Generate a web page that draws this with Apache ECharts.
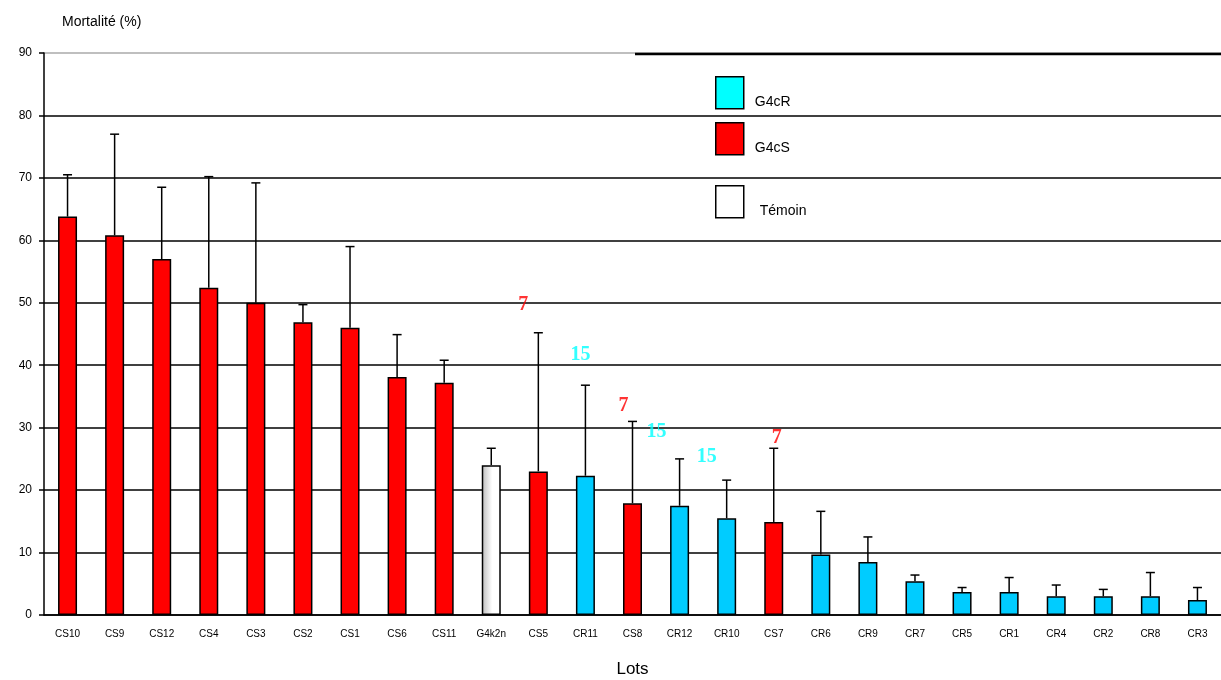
<!DOCTYPE html>
<html><head><meta charset="utf-8">
<script src="https://cdn.jsdelivr.net/npm/echarts@6/dist/echarts.min.js"></script>
<style>html,body{margin:0;padding:0;background:#fff;overflow:hidden}#c{width:1221px;height:680px}</style>
</head><body><div id="c"></div>
<script>
const categories = ['CS10','CS9','CS12','CS4','CS3','CS2','CS1','CS6','CS11','G4k2n','CS5','CR11','CS8','CR12','CR10','CS7','CR6','CR9','CR7','CR5','CR1','CR4','CR2','CR8','CR3'];
const groups = ['S','S','S','S','S','S','S','S','S','T','S','R','S','R','R','S','R','R','R','R','R','R','R','R','R'];
const means = [63.8,60.8,57.0,52.4,50.0,46.9,46.0,38.1,37.2,24.0,23.0,22.3,17.9,17.5,15.5,14.9,9.7,8.5,5.4,3.7,3.7,3.0,3.0,3.0,2.4];
const upper = [70.5,77.0,68.5,70.2,69.2,49.7,59.0,44.9,40.8,26.7,45.2,36.8,31.0,25.0,21.6,26.7,16.6,12.5,6.4,4.4,6.0,4.8,4.1,6.8,4.4];
const yTicks = [0,10,20,30,40,50,60,70,80,90];
const annotCat = ['CS5','CR11','CS8','CS8','CR10','CS7'];
const annotY = [49.7,41.7,33.5,29.3,25.3,28.4];
const annotText = ['7','15','7','15','15','7'];
const annotGroup = ['S','R','S','R','R','S'];

const RED = '#ff0000', BLUE = '#00ccff', CYAN = '#00ffff';
const annotOffsetX = [-15,-5,-9,24,-20,3];

function groupData(g){ return means.map((v,i)=> groups[i]===g ? v : '-'); }

const chart = echarts.init(document.getElementById('c'));
const barBorder = {borderColor:'#000', borderWidth:1.5};
function legendText(padLeft){
  return {fontFamily:'Liberation Sans, Arial', fontSize:14, color:'#000',
    rich:{a:{fontFamily:'Liberation Sans, Arial', fontSize:14, color:'#000', padding:[18,0,0,padLeft]}}};
}
const legendBase = {orient:'vertical', left:715, padding:0, itemWidth:28, itemHeight:32, selectedMode:false, icon:'rect',
  formatter:'{a|{name}}', textStyle:legendText(6)};

chart.setOption({
  animation:false,
  textStyle:{fontFamily:'Liberation Sans, Arial'},
  grid:{left:44, right:0, top:53, bottom:65, containLabel:false, outerBoundsMode:'none'},
  legend:[
    Object.assign({}, legendBase, {top:76, data:[{name:'G4cR', itemStyle:{color:CYAN, borderColor:'#000', borderWidth:1.5}}]}),
    Object.assign({}, legendBase, {top:122, data:[{name:'G4cS', itemStyle:{color:RED, borderColor:'#000', borderWidth:1.5}}]}),
    Object.assign({}, legendBase, {top:185, textStyle:legendText(11),
      data:[{name:'Témoin', itemStyle:{color:'#fff', borderColor:'#000', borderWidth:1.5}}]})
  ],
  xAxis:{type:'category', data:categories, name:'Lots', nameLocation:'middle', nameGap:46,
    nameTextStyle:{fontSize:17, color:'#000'},
    axisLine:{lineStyle:{color:'#000', width:1.5}},
    axisTick:{length:5, lineStyle:{color:'#000', width:1.5}},
    axisLabel:{fontSize:10, color:'#000', margin:14, interval:0}},
  yAxis:{type:'value', min:0, max:90, interval:10, name:'Mortalité (%)', nameGap:24,
    nameTextStyle:{fontSize:14, color:'#000', align:'left', padding:[0,0,0,18]},
    axisLine:{show:true, lineStyle:{color:'#000', width:1.5}},
    axisTick:{show:true, length:5, lineStyle:{color:'#000', width:1.5}},
    axisLabel:{fontSize:12, color:'#000', margin:12, formatter:v=> yTicks.includes(v)? String(v):''},
    splitLine:{lineStyle:{color:['#000','#000','#000','#000','#000','#000','#000','#000','#000','#aaa'], width:1.5}}},
  graphic:[{type:'line', shape:{x1:635, y1:54, x2:1221, y2:54}, style:{stroke:'#000', lineWidth:2.5}, z:10}],
  series:[
    {name:'G4cR', type:'bar', stack:'a', barWidth:19, data:groupData('R'), itemStyle:Object.assign({color:BLUE}, barBorder)},
    {name:'G4cS', type:'bar', stack:'a', barWidth:19, data:groupData('S'), itemStyle:Object.assign({color:RED}, barBorder)},
    {name:'Témoin', type:'bar', stack:'a', barWidth:19, data:groupData('T'),
      itemStyle:Object.assign({color:new echarts.graphic.LinearGradient(0,0,1,0,[{offset:0,color:'#bbb'},{offset:0.55,color:'#fff'},{offset:1,color:'#fff'}])}, barBorder)},
    {name:'err', type:'custom', z:5,
      data: categories.map((c,i)=>[i, means[i], upper[i]]),
      renderItem:(params, api)=>{
        const p1 = api.coord([api.value(0), api.value(1)]);
        const p2 = api.coord([api.value(0), api.value(2)]);
        const st = {stroke:'#000', lineWidth:1.5};
        return {type:'group', children:[
          {type:'line', shape:{x1:p1[0], y1:p1[1], x2:p2[0], y2:p2[1]}, style:st},
          {type:'line', shape:{x1:p2[0]-4.5, y1:p2[1], x2:p2[0]+4.5, y2:p2[1]}, style:st}
        ]};
      }},
    {name:'annot', type:'scatter', symbolSize:0, z:6,
      data: annotCat.map((c,i)=>({value:[c, annotY[i]],
        label:{show:true, position:'inside', formatter:annotText[i], offset:[annotOffsetX[i],0],
          color: annotGroup[i]==='S'? RED : CYAN,
          fontFamily:'Liberation Serif, Times New Roman, serif', fontWeight:'bold', fontSize:20}}))}
  ]
});
</script></body></html>
